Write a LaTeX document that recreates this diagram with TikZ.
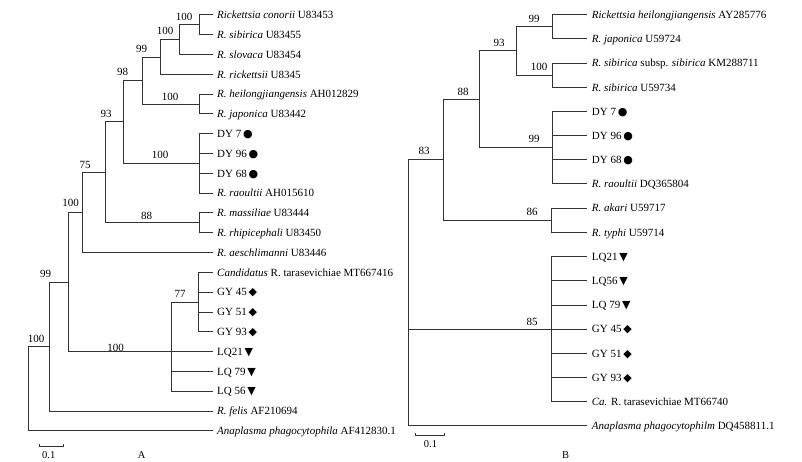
\documentclass[tikz,border=0pt]{standalone}
\usepackage{fontspec}
\setmainfont{Liberation Serif}
\newfontfamily\symfont{DejaVu Sans}
\newcommand{\mycirc}{\,{\symfont\char"25CF}}
\newcommand{\mydiam}{\,{\symfont\char"25C6}}
\newcommand{\mytri}{\,{\symfont\char"25BC}}
\begin{document}
\begin{tikzpicture}[x=1pt,y=-1pt,
  br/.style={draw=black!80, line width=1pt},
  leaf/.style={anchor=west, inner ysep=0pt, inner xsep=4.5pt, text height=8.5pt, text depth=1pt, font=\fontsize{11}{13}\selectfont},
  bs/.style={inner sep=0pt, font=\fontsize{11}{13}\selectfont},
  sc/.style={inner sep=0pt, font=\fontsize{10.5}{12}\selectfont}]
\useasboundingbox[fill=white] (0,0) rectangle (802,462);

% ---------------- Tree A leaves ----------------
\def\lxA{212.5}
\node[leaf] (A1)  at (\lxA,15.0)  {\textit{Rickettsia conorii} U83453};
\node[leaf] (A2)  at (\lxA,34.8)  {\textit{R. sibirica} U83455};
\node[leaf] (A3)  at (\lxA,54.6)  {\textit{R. slovaca} U83454};
\node[leaf] (A4)  at (\lxA,74.4)  {\textit{R. rickettsii} U8345};
\node[leaf] (A5)  at (\lxA,94.2)  {\textit{R. heilongjiangensis} AH012829};
\node[leaf] (A6)  at (\lxA,114.0) {\textit{R. japonica} U83442};
\node[leaf] (A7)  at (\lxA,133.8) {DY 7\mycirc};
\node[leaf] (A8)  at (\lxA,153.6) {DY 96\mycirc};
\node[leaf] (A9)  at (\lxA,173.4) {DY 68\mycirc};
\node[leaf] (A10) at (\lxA,193.2) {\textit{R. raoultii} AH015610};
\node[leaf] (A11) at (\lxA,213.0) {\textit{R. massiliae} U83444};
\node[leaf] (A12) at (\lxA,232.8) {\textit{R. rhipicephali} U83450};
\node[leaf] (A13) at (\lxA,252.6) {\textit{R. aeschlimanni} U83446};
\node[leaf] (A14) at (\lxA,272.4) {\textit{Candidatus} R. tarasevichiae MT667416};
\node[leaf] (A15) at (\lxA,292.2) {GY 45\mydiam};
\node[leaf] (A16) at (\lxA,312.0) {GY 51\mydiam};
\node[leaf] (A17) at (\lxA,331.8) {GY 93\mydiam};
\node[leaf] (A18) at (\lxA,351.6) {LQ21\mytri};
\node[leaf] (A19) at (\lxA,371.4) {LQ 79\mytri};
\node[leaf] (A20) at (\lxA,391.2) {LQ 56\mytri};
\node[leaf] (A21) at (\lxA,411.0) {\textit{R. felis} AF210694};
\node[leaf] (A22) at (\lxA,430.8) {\textit{Anaplasma phagocytophila} AF412830.1};

% internal nodes A
\coordinate (a1)  at (199,24.9);
\coordinate (a2)  at (179,39.7);
\coordinate (a3)  at (160,57.1);
\coordinate (a4)  at (199,104.1);
\coordinate (a5)  at (142.3,80.6);
\coordinate (a6)  at (199,163.5);
\coordinate (a7)  at (123.3,122.0);
\coordinate (a8)  at (199,222.9);
\coordinate (a9)  at (105,172.5);
\coordinate (a10) at (82.7,212.5);
\coordinate (a11) at (198,302.1);
\coordinate (a12) at (171.7,351.6);
\coordinate (a13) at (68.3,282.0);
\coordinate (a14) at (49,346.5);
\coordinate (a15) at (28.3,388.6);

\draw[br] (a1) |- (A1.west) (a1) |- (A2.west);
\draw[br] (a2) |- (a1) (a2) |- (A3.west);
\draw[br] (a3) |- (a2) (a3) |- (A4.west);
\draw[br] (a4) |- (A5.west) (a4) |- (A6.west);
\draw[br] (a5) |- (a3) (a5) |- (a4);
\draw[br] (a6) |- (A7.west) (a6) |- (A8.west) (a6) |- (A9.west) (a6) |- (A10.west);
\draw[br] (a7) |- (a5) (a7) |- (a6);
\draw[br] (a8) |- (A11.west) (a8) |- (A12.west);
\draw[br] (a9) |- (a7) (a9) |- (a8);
\draw[br] (a10) |- (a9) (a10) |- (A13.west);
\draw[br] (a11) |- (A14.west) (a11) |- (A15.west) (a11) |- (A16.west) (a11) |- (A17.west);
\draw[br] (a12) |- (a11) (a12) |- (A18.west) (a12) |- (A19.west) (a12) |- (A20.west);
\draw[br] (a13) |- (a10) (a13) |- (a12);
\draw[br] (a14) |- (a13) (a14) |- (A21.west);
\draw[br] (a15) |- (a14) (a15) |- (A22.west);

% bootstrap A
\node[bs] (ba1)  at (184,16.7)   {100};
\node[bs] (ba2)  at (165,31.0)   {100};
\node[bs] (ba3)  at (141.7,49.3) {99};
\node[bs] (ba4)  at (170,96.5)   {100};
\node[bs] (ba5)  at (122.7,71.7) {98};
\node[bs] (ba6)  at (160,154.5)  {100};
\node[bs] (ba7)  at (106,114.3)  {93};
\node[bs] (ba8)  at (146.7,215.5){88};
\node[bs] (ba9)  at (85,165)     {75};
\node[bs] (ba10) at (70.7,203.3) {100};
\node[bs] (ba11) at (180,294.3)  {77};
\node[bs] (ba12) at (115.7,347.5){100};
\node[bs] (ba13) at (45.7,274.3) {99};
\node[bs] (ba14) at (36,339)     {100};

% scale A
\coordinate (sA1) at (39.3,446);
\coordinate (sA2) at (63.3,446);
\draw[br, line width=0.8pt] ([yshift=2.2pt]sA1) -- (sA1) -- (sA2) -- ([yshift=2.2pt]sA2);
\node[sc] (sAl) at (48.7,455.5) {0.1};
\node[sc] (capA) at (141.7,455.5) {A};

% ---------------- Tree B leaves ----------------
\def\lxB{587.2}
\node[leaf] (B1)  at (\lxB,14.7)  {\textit{Rickettsia heilongjiangensis} AY285776};
\node[leaf] (B2)  at (\lxB,38.9)  {\textit{R. japonica} U59724};
\node[leaf] (B3)  at (\lxB,63.1)  {\textit{R. sibirica} subsp. \textit{sibirica} KM288711};
\node[leaf] (B4)  at (\lxB,87.3)  {\textit{R. sibirica} U59734};
\node[leaf] (B5)  at (\lxB,111.5) {DY 7\mycirc};
\node[leaf] (B6)  at (\lxB,135.7) {DY 96\mycirc};
\node[leaf] (B7)  at (\lxB,159.8) {DY 68\mycirc};
\node[leaf] (B8)  at (\lxB,184.0) {\textit{R. raoultii} DQ365804};
\node[leaf] (B9)  at (\lxB,208.2) {\textit{R. akari} U59717};
\node[leaf] (B10) at (\lxB,232.4) {\textit{R. typhi} U59714};
\node[leaf] (B11) at (\lxB,256.6) {LQ21\mytri};
\node[leaf] (B12) at (\lxB,280.8) {LQ56\mytri};
\node[leaf] (B13) at (\lxB,305.0) {LQ 79\mytri};
\node[leaf] (B14) at (\lxB,329.2) {GY 45\mydiam};
\node[leaf] (B15) at (\lxB,353.4) {GY 51\mydiam};
\node[leaf] (B16) at (\lxB,377.6) {GY 93\mydiam};
\node[leaf] (B17) at (\lxB,401.7) {\textit{Ca.} R. tarasevichiae MT66740};
\node[leaf] (B18) at (\lxB,425.9) {\textit{Anaplasma phagocytophilm} DQ458811.1};

% internal nodes B
\coordinate (b1) at (552.3,26.8);
\coordinate (b2) at (552.3,75.2);
\coordinate (b3) at (516.7,51.0);
\coordinate (b4) at (552.3,147.7);
\coordinate (b5) at (479,99.4);
\coordinate (b6) at (551.7,220.3);
\coordinate (b7) at (443.3,159.8);
\coordinate (b8) at (551.7,329.2);
\coordinate (b9) at (408.3,329.2);

\draw[br] (b1) |- (B1.west) (b1) |- (B2.west);
\draw[br] (b2) |- (B3.west) (b2) |- (B4.west);
\draw[br] (b3) |- (b1) (b3) |- (b2);
\draw[br] (b4) |- (B5.west) (b4) |- (B6.west) (b4) |- (B7.west) (b4) |- (B8.west);
\draw[br] (b5) |- (b3) (b5) |- (b4);
\draw[br] (b6) |- (B9.west) (b6) |- (B10.west);
\draw[br] (b7) |- (b5) (b7) |- (b6);
\draw[br] (b8) |- (B11.west) (b8) |- (B12.west) (b8) |- (B13.west) (b8) |- (B14.west)
          (b8) |- (B15.west) (b8) |- (B16.west) (b8) |- (B17.west);
\draw[br] (b9) |- (b7) (b9) -- (b8) (b9) |- (B18.west);

% bootstrap B
\node[bs] (bb1) at (534,19)    {99};
\node[bs] (bb2) at (539,67)    {100};
\node[bs] (bb3) at (499,43)    {93};
\node[bs] (bb4) at (534,138.5) {99};
\node[bs] (bb5) at (463,92)    {88};
\node[bs] (bb6) at (532,212)   {86};
\node[bs] (bb7) at (424,150.5) {83};
\node[bs] (bb8) at (532,321.5) {85};

% scale B
\coordinate (sB1) at (415,435.5);
\coordinate (sB2) at (444,435.5);
\draw[br, line width=0.8pt] ([yshift=2.2pt]sB1) -- (sB1) -- (sB2) -- ([yshift=2.2pt]sB2);
\node[sc] (sBl) at (430.5,444.5) {0.1};
\node[sc] (capB) at (565.7,455) {B};
\end{tikzpicture}
\end{document}
